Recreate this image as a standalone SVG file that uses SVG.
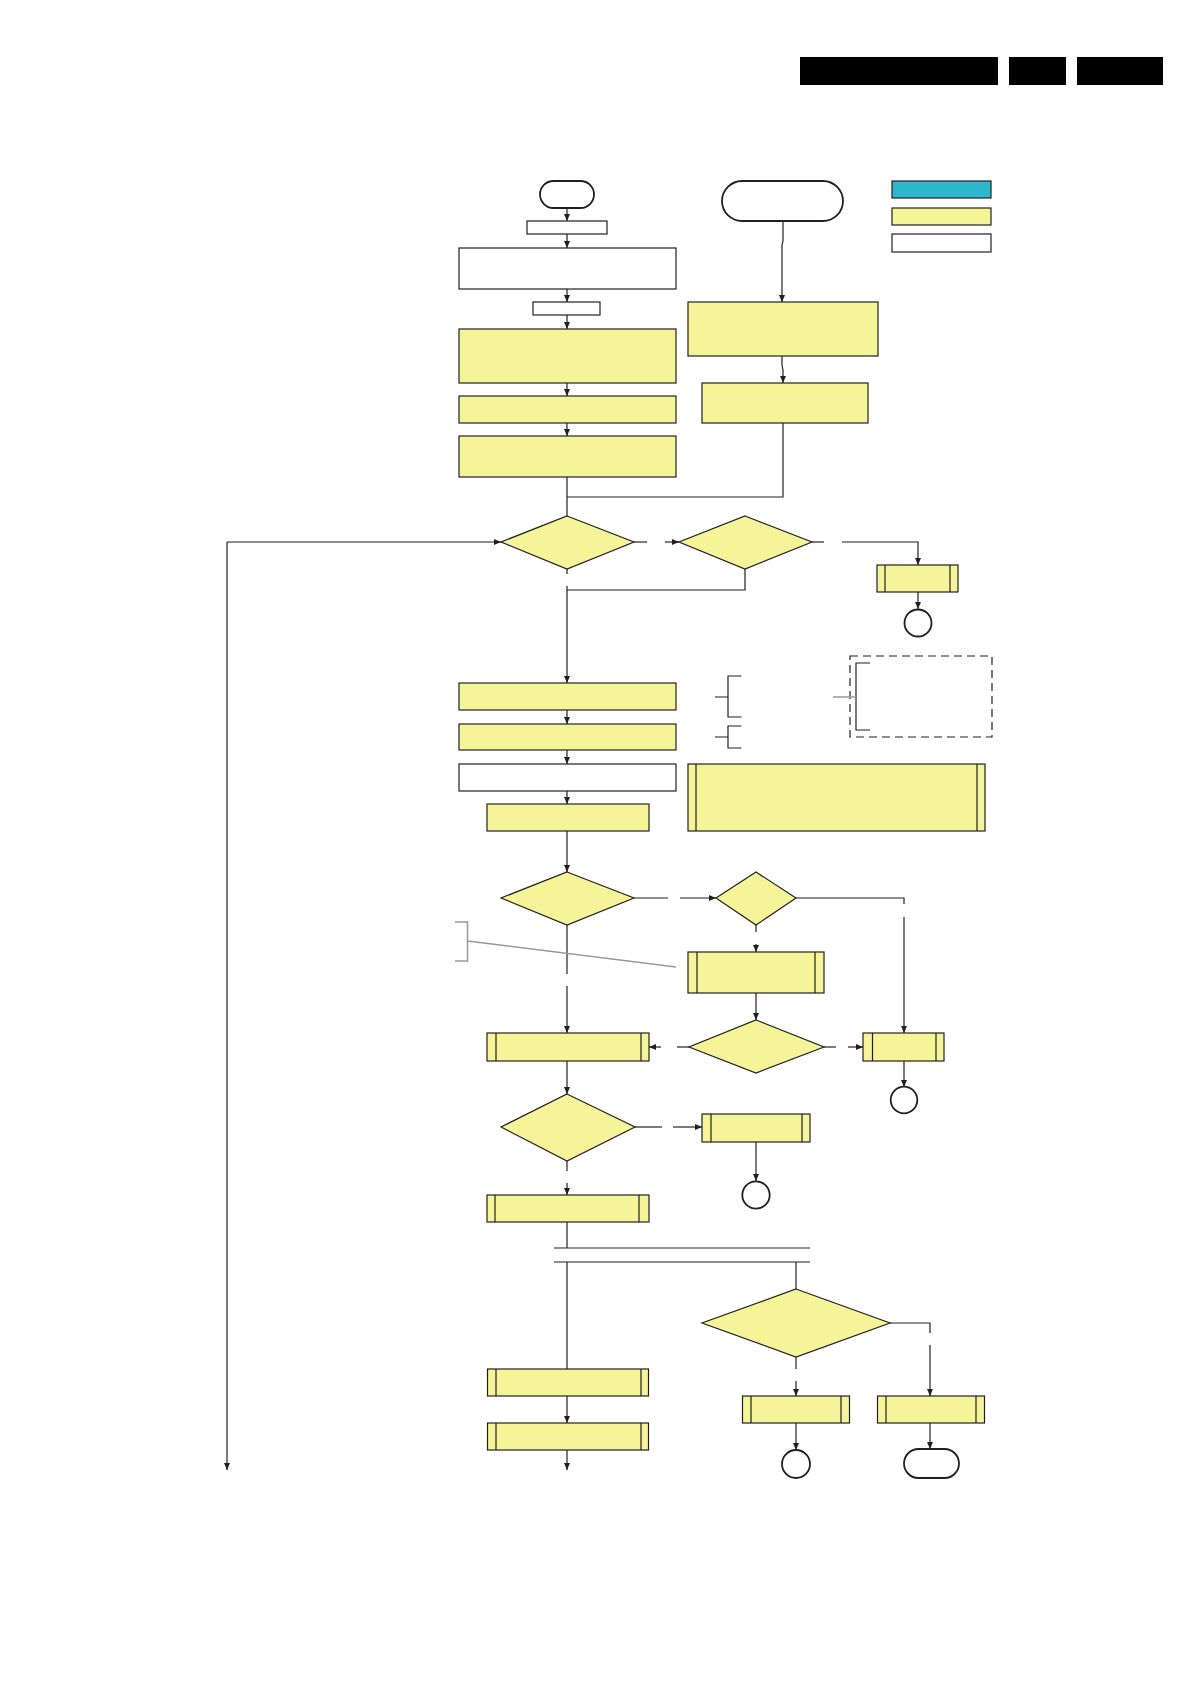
<svg xmlns="http://www.w3.org/2000/svg" width="1192" height="1685" viewBox="0 0 1192 1685">
<defs>
<marker id="ah" markerWidth="7" markerHeight="6" refX="7" refY="3" orient="auto" markerUnits="userSpaceOnUse"><path d="M0,0 L7,3 L0,6 z" fill="#231f20"/></marker>
</defs>
<style>
.y{fill:#f5f498;stroke:#231f20;stroke-width:1.2}
.w{fill:#fff;stroke:#231f20;stroke-width:1.2}
.cy{fill:#2db8cf;stroke:#231f20;stroke-width:1.2}
.c{fill:none;stroke:#231f20;stroke-width:1.2}
.a{marker-end:url(#ah)}
.t{fill:#fff;stroke:#231f20;stroke-width:1.8}
.g{fill:none;stroke:#999;stroke-width:1.5}
.k{fill:#000}
</style>
<rect width="1192" height="1685" fill="#fff"/>
<g id="header">
<rect class="k" x="800" y="57" width="198" height="28"/>
<rect class="k" x="1009" y="57" width="57" height="28"/>
<rect class="k" x="1077" y="57" width="86" height="28"/>
</g>
<g id="legend">
<rect class="cy" x="892" y="181" width="99" height="17"/>
<rect class="y" x="892" y="208" width="99" height="17"/>
<rect class="w" x="892" y="234" width="99" height="18"/>
</g>
<g id="connectors">
<path class="c a" d="M567,208 L567,221"/>
<path class="c a" d="M567,234 L567,248"/>
<path class="c a" d="M567,289 L567,302"/>
<path class="c a" d="M567,315 L567,329"/>
<path class="c a" d="M567,383 L567,396"/>
<path class="c a" d="M567,423 L567,436"/>
<path class="c" d="M567,477 L567,516"/>
<path class="c a" d="M783,221 L783,241 L782,245 L782,302"/>
<path class="c a" d="M782,356 L782,365 L783,370 L783,383"/>
<path class="c" d="M783,423 L783,497 L567,497"/>
<path class="c a" d="M227,542 L501,542"/>
<path class="c a" d="M227,542 L227,1470"/>
<path class="c" d="M634,542 L647,542"/>
<path class="c a" d="M665,542 L679,542"/>
<path class="c" d="M812,542 L824,542"/>
<path class="c a" d="M842,542 L918,542 L918,565"/>
<path class="c a" d="M918,592 L918,609"/>
<path class="c" d="M567,569 L567,574"/>
<path class="c a" d="M567,586 L567,683"/>
<path class="c" d="M745,569 L745,590 L567,590"/>
<path class="c a" d="M567,710 L567,724"/>
<path class="c a" d="M567,750 L567,764"/>
<path class="c a" d="M567,791 L567,804"/>
<path class="c a" d="M567,831 L567,872"/>
<path class="c" d="M634,898 L668,898"/>
<path class="c a" d="M680,898 L716,898"/>
<path class="c" d="M796,898 L904,898 L904,904"/>
<path class="c a" d="M904,917 L904,1033"/>
<path class="c" d="M756,925 L756,932"/>
<path class="c a" d="M756,944 L756,952"/>
<path class="c a" d="M756,993 L756,1020"/>
<path class="c" d="M689,1047 L677,1047"/>
<path class="c a" d="M661,1047 L649,1047"/>
<path class="c" d="M824,1047 L836,1047"/>
<path class="c a" d="M848,1047 L863,1047"/>
<path class="c" d="M567,925 L567,974"/>
<path class="c a" d="M567,986 L567,1033"/>
<path class="c a" d="M904,1061 L904,1087"/>
<path class="c a" d="M567,1061 L567,1094"/>
<path class="c" d="M635,1127 L662,1127"/>
<path class="c a" d="M673,1127 L702,1127"/>
<path class="c a" d="M756,1142 L756,1181"/>
<path class="c" d="M567,1161 L567,1171"/>
<path class="c a" d="M567,1183 L567,1195"/>
<path class="c" d="M567,1222 L567,1248"/>
<path class="c" d="M554,1248 L810,1248"/>
<path class="c" d="M554,1262 L810,1262"/>
<path class="c" d="M567,1262 L567,1369"/>
<path class="c" d="M796,1262 L796,1289"/>
<path class="c a" d="M567,1396 L567,1423"/>
<path class="c a" d="M567,1450 L567,1470"/>
<path class="c" d="M890,1323 L930,1323 L930,1333"/>
<path class="c a" d="M930,1345 L930,1396"/>
<path class="c" d="M796,1357 L796,1369"/>
<path class="c a" d="M796,1381 L796,1396"/>
<path class="c a" d="M796,1423 L796,1450"/>
<path class="c a" d="M930,1423 L930,1449"/>
</g>
<g id="start"><rect class="t" x="540" y="181" width="54" height="27" rx="13.5"/></g>
<g id="n1"><rect class="w" x="527" y="221" width="80" height="13"/></g>
<g id="n2"><rect class="w" x="459" y="248" width="217" height="41"/></g>
<g id="n3"><rect class="w" x="533" y="302" width="67" height="13"/></g>
<g id="n4"><rect class="y" x="459" y="329" width="217" height="54"/></g>
<g id="n5"><rect class="y" x="459" y="396" width="217" height="27"/></g>
<g id="n6"><rect class="y" x="459" y="436" width="217" height="41"/></g>
<g id="start2"><rect class="t" x="722" y="181" width="121" height="40" rx="20"/></g>
<g id="r1"><rect class="y" x="688" y="302" width="190" height="54"/></g>
<g id="r2"><rect class="y" x="702" y="383" width="166" height="40"/></g>
<g id="d1"><polygon class="y" points="567,516 634,542 567,569 501,542"/></g>
<g id="d2"><polygon class="y" points="745,516 812,542 745,569 679,542"/></g>
<g id="b1"><rect class="y" x="877" y="565" width="81" height="27"/><path class="c" d="M885,565 L885,592 M950,565 L950,592"/></g>
<g id="c1"><circle class="t" cx="918" cy="623" r="13.5"/></g>
<g id="nA"><rect class="y" x="459" y="683" width="217" height="27"/></g>
<g id="nB"><rect class="y" x="459" y="724" width="217" height="26"/></g>
<g id="nC"><rect class="w" x="459" y="764" width="217" height="27"/></g>
<g id="nD"><rect class="y" x="487" y="804" width="162" height="27"/></g>
<g id="big"><rect class="y" x="688" y="764" width="297" height="67"/><path class="c" d="M696,764 L696,831 M977,764 L977,831"/></g>
<g id="brackets">
<path class="c" d="M741.5,676 L728,676 L728,717 L741.5,717 M715,697 L728,697"/>
<path class="c" d="M741.5,726 L728,726 L728,748 L741.5,748 M715,737 L728,737"/>
</g>
<g id="dashbox">
<rect x="850" y="656" width="142" height="81" fill="none" stroke="#231f20" stroke-width="1.2" stroke-dasharray="8,5"/>
<path class="c" d="M870,663 L856,663 L856,730 L870,730"/>
<path class="g" d="M833,697 L856,697"/>
</g>
<g id="d3"><polygon class="y" points="567,872 634,898 567,925 501,898"/></g>
<g id="d4"><polygon class="y" points="756,872 796,898 756,925 716,898"/></g>
<g id="nE"><rect class="y" x="688" y="952" width="136" height="41"/><path class="c" d="M697,952 L697,993 M815,952 L815,993"/></g>
<g id="note"><path class="g" d="M455,922 L467.5,922 L467.5,961 L455,961 M467.5,941 L676,967"/></g>
<g id="d5"><polygon class="y" points="756,1020 824,1047 756,1073 689,1047"/></g>
<g id="nF"><rect class="y" x="487" y="1033" width="162" height="28"/><path class="c" d="M496,1033 L496,1061 M641,1033 L641,1061"/></g>
<g id="nG"><rect class="y" x="863" y="1033" width="81" height="28"/><path class="c" d="M872.5,1033 L872.5,1061 M936,1033 L936,1061"/></g>
<g id="c2"><circle class="t" cx="904" cy="1100" r="13.3"/></g>
<g id="d6"><polygon class="y" points="567,1094 635,1127 567,1161 501,1127"/></g>
<g id="nH"><rect class="y" x="702" y="1114" width="108" height="28"/><path class="c" d="M711,1114 L711,1142 M802,1114 L802,1142"/></g>
<g id="c3"><circle class="t" cx="756" cy="1195" r="13.7"/></g>
<g id="nI"><rect class="y" x="487" y="1195" width="162" height="27"/><path class="c" d="M495,1195 L495,1222 M639,1195 L639,1222"/></g>
<g id="d7"><polygon class="y" points="796,1289 890,1323 796,1357 702,1323"/></g>
<g id="nJ"><rect class="y" x="487.5" y="1369" width="161" height="27"/><path class="c" d="M496,1369 L496,1396 M641,1369 L641,1396"/></g>
<g id="nK"><rect class="y" x="487.5" y="1423" width="161" height="27"/><path class="c" d="M496,1423 L496,1450 M641,1423 L641,1450"/></g>
<g id="nL"><rect class="y" x="742.5" y="1396" width="107" height="27"/><path class="c" d="M751,1396 L751,1423 M841,1396 L841,1423"/></g>
<g id="nM"><rect class="y" x="877.5" y="1396" width="107" height="27"/><path class="c" d="M886,1396 L886,1423 M976,1396 L976,1423"/></g>
<g id="c4"><circle class="t" cx="796" cy="1464" r="14"/></g>
<g id="end"><rect class="t" x="904" y="1449" width="55" height="29" rx="14.5"/></g>
</svg>
